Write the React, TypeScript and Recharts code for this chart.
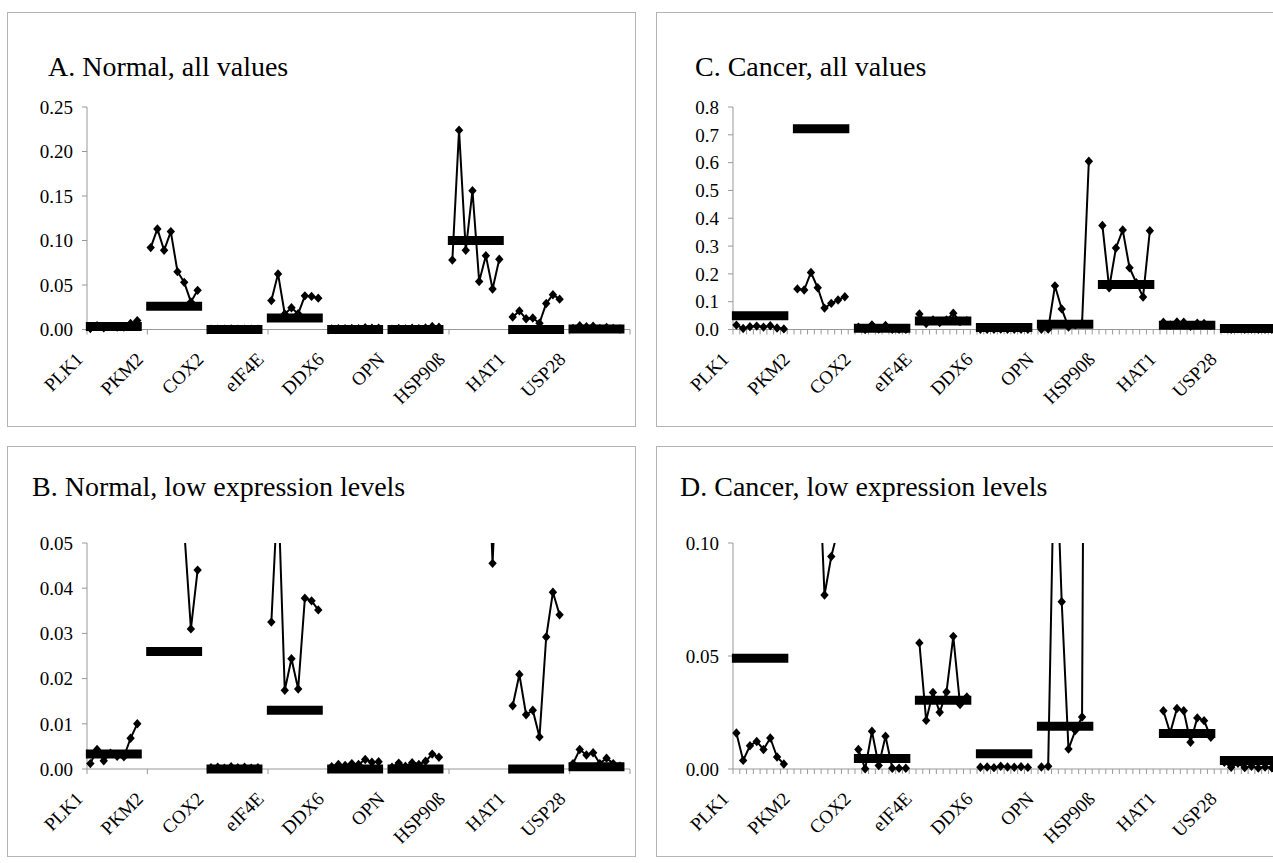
import React from "react";
import { LineChart, Line, XAxis, YAxis } from "recharts";

const FONT = "'Liberation Serif', 'Times New Roman', serif";

const genes = ["PLK1", "PKM2", "COX2", "eIF4E", "DDX6", "OPN", "HSP90ß", "HAT1", "USP28"];

// normal tissue: 8 samples per gene, plus the group level drawn as a thick bar
const normalSamples = [
  [0.0012, 0.0043, 0.0018, 0.0035, 0.0028, 0.0027, 0.0068, 0.01],
  [0.092, 0.113, 0.089, 0.11, 0.065, 0.053, 0.031, 0.044],
  [0.0003, 0.0004, 0.0002, 0.0005, 0.0003, 0.0004, 0.0002, 0.0003],
  [0.0325, 0.0625, 0.0174, 0.0244, 0.0177, 0.0378, 0.0372, 0.0352],
  [0.0005, 0.001, 0.0008, 0.0012, 0.001, 0.0021, 0.0015, 0.0016],
  [0.0004, 0.0013, 0.0006, 0.0014, 0.001, 0.0017, 0.0033, 0.0026],
  [0.078, 0.224, 0.089, 0.156, 0.054, 0.083, 0.0455, 0.079],
  [0.014, 0.0209, 0.012, 0.013, 0.0071, 0.0292, 0.0391, 0.0341],
  [0.0012, 0.0043, 0.0031, 0.0036, 0.0012, 0.0024, 0.0012, 0.0006],
];
const normalLevels = [0.0033, 0.026, 0, 0.013, 0, 0, 0.1, 0, 0.0005];

// cancer tissue
const cancerSamples = [
  [0.0159, 0.0038, 0.0103, 0.0122, 0.0086, 0.0137, 0.0053, 0.0022],
  [0.146, 0.142, 0.205, 0.15, 0.077, 0.094, 0.106, 0.118],
  [0.0086, 0.0001, 0.0167, 0.0015, 0.0145, 0.0003, 0.0003, 0.0003],
  [0.0558, 0.0215, 0.0339, 0.0251, 0.0341, 0.0587, 0.0285, 0.0319],
  [0.0008, 0.0009, 0.0006, 0.0012, 0.0009, 0.0008, 0.001, 0.0007],
  [0.0009, 0.0012, 0.157, 0.074, 0.0088, 0.017, 0.023, 0.605],
  [0.374, 0.15, 0.293, 0.358, 0.222, 0.168, 0.117, 0.355],
  [0.0258, 0.016, 0.0268, 0.0258, 0.0118, 0.0226, 0.0214, 0.014],
  [0.003, 0.0008, 0.0025, 0.0006, 0.0012, 0.0004, 0.0009, 0.0005],
];
const cancerLevels = [0.049, 0.722, 0.0046, 0.0304, 0.0068, 0.0189, 0.162, 0.0157, 0.0038];

const ticksA = [0, 0.05, 0.1, 0.15, 0.2, 0.25];
const ticksB = [0, 0.01, 0.02, 0.03, 0.04, 0.05];
const ticksC = [0, 0.1, 0.2, 0.3, 0.4, 0.5, 0.6, 0.7, 0.8];
const ticksD = [0, 0.05, 0.1];

const PER_GROUP = 9; // 8 samples + 1 empty slot
const N_CAT = genes.length * PER_GROUP;

function buildRows(samples: number[][], levels: number[]) {
  const rows: { x: number; v: number | null; m: number | null }[] = [];
  samples.forEach((vals, g) => {
    vals.forEach((v, j) => rows.push({ x: g * PER_GROUP + j + 0.5, v, m: levels[g] }));
    rows.push({ x: g * PER_GROUP + PER_GROUP - 0.5, v: null, m: null });
  });
  return rows;
}

const normalRows = buildRows(normalSamples, normalLevels);
const cancerRows = buildRows(cancerSamples, cancerLevels);

const majorTicks = Array.from({ length: genes.length + 1 }, (_, i) => i * PER_GROUP);
const minorTicks = Array.from({ length: N_CAT + 1 }, (_, i) => i);

const Diamond = (props: any) => {
  const { cx, cy, value, index } = props;
  if (value == null || cx == null || cy == null) return <g key={`e${index}`} />;
  const w = 4.2, h = 4.7;
  return (
    <polygon
      key={`d${index}`}
      points={`${cx},${cy - h} ${cx + w},${cy} ${cx},${cy + h} ${cx - w},${cy}`}
      fill="#000"
    />
  );
};

const geneTick = (axisY: number) => (props: any) => {
  const { x, payload, index } = props;
  const v = Number(payload.value);
  if (v % PER_GROUP !== 0 || v >= N_CAT) return <g key={`t${index}`} />;
  const ax = Number(x) - 3;
  const ay = axisY + 31;
  return (
    <g key={`t${index}`} transform={`translate(${ax},${ay}) rotate(-45)`}>
      <text x={0} y={0} textAnchor="end" fontSize={19} fontFamily={FONT} fill="#000">
        {genes[v / PER_GROUP]}
      </text>
    </g>
  );
};

type PanelProps = {
  id: string;
  title: string;
  titleX: number;
  titleBase: number;
  box: { left: number; top: number; width: number; height: number };
  plot: { left: number; top: number; w: number; h: number };
  rows: { x: number; v: number | null; m: number | null }[];
  yTicks: number[];
  decimals: number;
  minor: boolean;
  clip: boolean;
};

const Panel = ({ id, title, titleX, titleBase, box, plot, rows, yTicks, decimals, minor, clip }: PanelProps) => {
  const yAxisW = 80;
  const mTop = 20;
  const mRight = 20;
  const xAxisH = 110;
  const axisY = mTop + plot.h;
  return (
    <>
      <div
        style={{
          position: "absolute",
          left: box.left,
          top: box.top,
          width: box.width,
          height: box.height,
          border: "1.5px solid #b4b4b4",
          boxSizing: "border-box",
        }}
      />
      <div
        style={{
          position: "absolute",
          left: titleX,
          top: titleBase - 23.5,
          fontFamily: FONT,
          fontSize: 28,
          lineHeight: "28px",
          whiteSpace: "nowrap",
          color: "#000",
        }}
      >
        {title}
      </div>
      <div
        className={`clip-${id}`}
        style={{ position: "absolute", left: plot.left - yAxisW, top: plot.top - mTop }}
      >
        {clip && <style>{`.clip-${id} clipPath rect { height: ${plot.h + 14}px; }`}</style>}
        <LineChart
          width={yAxisW + plot.w + mRight}
          height={mTop + plot.h + xAxisH}
          data={rows}
          margin={{ top: mTop, right: mRight, bottom: 0, left: 0 }}
        >
          <XAxis
            dataKey="x"
            type="number"
            domain={[0, N_CAT]}
            ticks={minor ? minorTicks : majorTicks}
            interval={0}
            height={xAxisH}
            tickSize={5}
            tickMargin={0}
            axisLine={{ stroke: "#999", strokeWidth: 1 }}
            tickLine={{ stroke: "#999", strokeWidth: 1 }}
            tick={geneTick(axisY)}
          />
          <YAxis
            type="number"
            domain={[0, yTicks[yTicks.length - 1]]}
            ticks={yTicks}
            interval={0}
            allowDataOverflow={clip}
            width={yAxisW}
            tickSize={5}
            tickMargin={9}
            axisLine={{ stroke: "#999", strokeWidth: 1 }}
            tickLine={{ stroke: "#999", strokeWidth: 1 }}
            tick={{ fontSize: 19, fontFamily: FONT, fill: "#000" }}
            tickFormatter={(t: number) => t.toFixed(decimals)}
          />
          <Line
            dataKey="v"
            type="linear"
            stroke="#000"
            strokeWidth={2}
            dot={Diamond}
            activeDot={false}
            connectNulls={false}
            isAnimationActive={false}
            zIndex={600}
          />
          <Line
            dataKey="m"
            type="linear"
            stroke="#000"
            strokeWidth={9}
            strokeLinecap="square"
            dot={false}
            activeDot={false}
            connectNulls={false}
            isAnimationActive={false}
            zIndex={650}
          />
        </LineChart>
      </div>
    </>
  );
};

export default function App() {
  return (
    <div
      style={{
        position: "absolute",
        left: 0,
        top: 0,
        width: 1273,
        height: 863,
        overflow: "hidden",
        background: "#fff",
      }}
    >
      <Panel
        id="A"
        title="A. Normal, all values"
        titleX={48}
        titleBase={76}
        box={{ left: 7, top: 12, width: 629, height: 415 }}
        plot={{ left: 87, top: 107, w: 543, h: 222.5 }}
        rows={normalRows}
        yTicks={ticksA}
        decimals={2}
        minor={false}
        clip={false}
      />
      <Panel
        id="C"
        title="C. Cancer, all values"
        titleX={695}
        titleBase={76}
        box={{ left: 656, top: 12, width: 640, height: 415 }}
        plot={{ left: 733, top: 107, w: 549, h: 222.5 }}
        rows={cancerRows}
        yTicks={ticksC}
        decimals={1}
        minor={true}
        clip={false}
      />
      <Panel
        id="B"
        title="B. Normal, low expression levels"
        titleX={32}
        titleBase={496}
        box={{ left: 7, top: 446, width: 629, height: 411 }}
        plot={{ left: 86.5, top: 543.3, w: 543, h: 226 }}
        rows={normalRows}
        yTicks={ticksB}
        decimals={2}
        minor={false}
        clip={true}
      />
      <Panel
        id="D"
        title="D. Cancer, low expression levels"
        titleX={680}
        titleBase={496}
        box={{ left: 656, top: 446, width: 640, height: 411 }}
        plot={{ left: 733, top: 543.3, w: 549, h: 226 }}
        rows={cancerRows}
        yTicks={ticksD}
        decimals={2}
        minor={true}
        clip={true}
      />
    </div>
  );
}
